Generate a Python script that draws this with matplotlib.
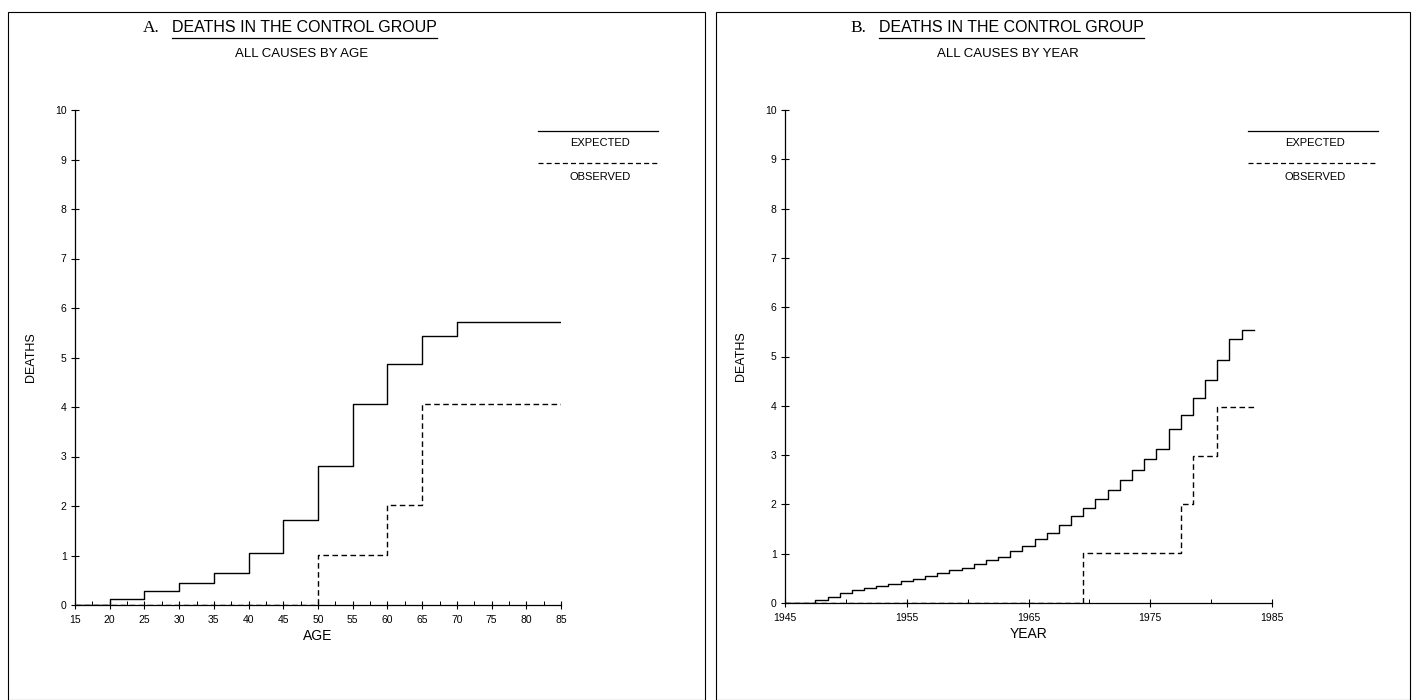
import numpy as np
import matplotlib
matplotlib.use("Agg")
import matplotlib.pyplot as plt
from matplotlib.lines import Line2D
from matplotlib.patches import Rectangle

plt.rcParams['font.family'] = ['Liberation Sans', 'DejaVu Sans']

# panel A: cumulative deaths by age (step edges at 5-year ages)
age_edges = [15, 20, 25, 30, 35, 40, 45, 50, 55, 60, 65, 70, 75, 80, 85]
expected_age = [0, 0.12, 0.28, 0.44, 0.65, 1.05, 1.72, 2.80, 4.06, 4.87, 5.43, 5.72, 5.72, 5.72, 5.72]
observed_age = [0, 0, 0, 0, 0, 0, 0, 1.02, 1.02, 2.02, 4.06, 4.06, 4.06, 4.06, 4.06]
age_ticks = [15, 20, 25, 30, 35, 40, 45, 50, 55, 60, 65, 70, 75, 80, 85]

# panel B: cumulative deaths by calendar year
year_edges = [1945, 1946.5, 1947.5, 1948.5, 1949.5, 1950.5, 1951.5, 1952.5, 1953.5,
              1954.5, 1955.5, 1956.5, 1957.5, 1958.5, 1959.5, 1960.5, 1961.5, 1962.5,
              1963.5, 1964.5, 1965.5, 1966.5, 1967.5, 1968.5, 1969.5, 1970.5, 1971.5,
              1972.5, 1973.5, 1974.5, 1975.5, 1976.5, 1977.5, 1978.5, 1979.5, 1980.5,
              1981.5, 1982.5, 1983.5]
expected_year = [0, 0.01, 0.07, 0.13, 0.20, 0.26, 0.30, 0.34, 0.39, 0.44, 0.49, 0.54,
                 0.60, 0.66, 0.72, 0.79, 0.87, 0.94, 1.06, 1.16, 1.29, 1.41, 1.58, 1.76,
                 1.93, 2.10, 2.29, 2.49, 2.69, 2.93, 3.12, 3.52, 3.82, 4.15, 4.52, 4.92,
                 5.35, 5.53, 5.53]
observed_year = [0, 0, 0, 0, 0, 0, 0, 0, 0, 0, 0, 0, 0, 0, 0, 0, 0, 0, 0, 0, 0, 0, 0, 0,
                 1.01, 1.01, 1.01, 1.01, 1.01, 1.01, 1.01, 1.01, 2.0, 2.99, 2.99, 3.98,
                 3.98, 3.98, 3.98]
year_ticks = [1945, 1955, 1965, 1975, 1985]
y_ticks = list(range(0, 11))

W, H = 1417, 700
fig = plt.figure(figsize=(W / 100, H / 100), dpi=100)
DASH = (4, 2.5)


def fx(px):
    return px / W


def fy(py):
    return 1 - py / H


# panel frames
for x0, x1 in [(8, 705), (716, 1410)]:
    fig.patches.append(Rectangle((fx(x0), 0), fx(x1 - x0), fy(12), transform=fig.transFigure,
                                 fill=False, lw=0.8, ec='black'))


def setup_axes(ax, xlim, xticks, minor, xlabel):
    ax.set_xlim(*xlim)
    ax.set_ylim(0, 10)
    for s in ['top', 'right']:
        ax.spines[s].set_visible(False)
    for s in ['left', 'bottom']:
        ax.spines[s].set_linewidth(0.9)
    ax.set_xticks(xticks)
    ax.set_xticks(minor, minor=True)
    ax.set_yticks(y_ticks)
    ax.tick_params(axis='both', which='major', direction='inout', length=6, width=0.8,
                   labelsize=7.5, pad=3)
    ax.tick_params(axis='x', which='major', pad=4)
    ax.tick_params(axis='x', which='minor', direction='in', length=3, width=0.7)
    ax.set_xlabel(xlabel, fontsize=10, labelpad=3)
    ax.set_ylabel('DEATHS', fontsize=9)
    ax.yaxis.set_label_coords(-0.079, 0.5)
    ax.patch.set_alpha(0)


def title_block(letter, letter_x, sub_cx, title, sub):
    fig.text(fx(letter_x), fy(28), letter, ha='left', va='center',
             fontsize=12.5, family='Liberation Serif')
    t = fig.text(fx(letter_x + 29), fy(28), title, ha='left', va='center', fontsize=11.5)
    fig.canvas.draw()
    bb = t.get_window_extent().transformed(fig.transFigure.inverted())
    fig.lines.append(Line2D([bb.x0, bb.x1], [bb.y0 - 0.003, bb.y0 - 0.003],
                            transform=fig.transFigure, color='black', lw=0.9))
    fig.text(fx(sub_cx), fy(54), sub, ha='center', va='center', fontsize=9.5)


def legend_block(x0, x1):
    cx = (x0 + x1) / 2 + 2
    fig.lines.append(Line2D([fx(x0), fx(x1)], [fy(131), fy(131)], transform=fig.transFigure,
                            color='black', lw=0.9))
    fig.text(fx(cx), fy(143), 'EXPECTED', ha='center', va='center', fontsize=8)
    fig.lines.append(Line2D([fx(x0), fx(x1)], [fy(163), fy(163)], transform=fig.transFigure,
                            color='black', lw=0.9, dashes=DASH))
    fig.text(fx(cx), fy(177), 'OBSERVED', ha='center', va='center', fontsize=8)


# panel A
axA = fig.add_axes([fx(75), fy(605), fx(561 - 75), fy(110) - fy(605)])
setup_axes(axA, (15, 85), age_ticks, np.arange(17.5, 85, 5), 'AGE')
axA.step(age_edges, expected_age, where='post', color='black', lw=1.0)
axA.step(age_edges, observed_age, where='post', color='black', lw=1.0, dashes=DASH)
title_block('A.', 143, 302, 'DEATHS IN THE CONTROL GROUP', 'ALL CAUSES BY AGE')
legend_block(538, 658)

# panel B
axB = fig.add_axes([fx(785), fy(603), fx(1272 - 785), fy(110) - fy(603)])
setup_axes(axB, (1945, 1985), year_ticks, np.arange(1950, 1985, 10), 'YEAR')
axB.step(year_edges, expected_year, where='post', color='black', lw=1.0)
axB.step(year_edges, observed_year, where='post', color='black', lw=1.0, dashes=DASH)
title_block('B.', 850, 1008, 'DEATHS IN THE CONTROL GROUP', 'ALL CAUSES BY YEAR')
legend_block(1248, 1378)

fig.savefig('out.png', dpi=100)
